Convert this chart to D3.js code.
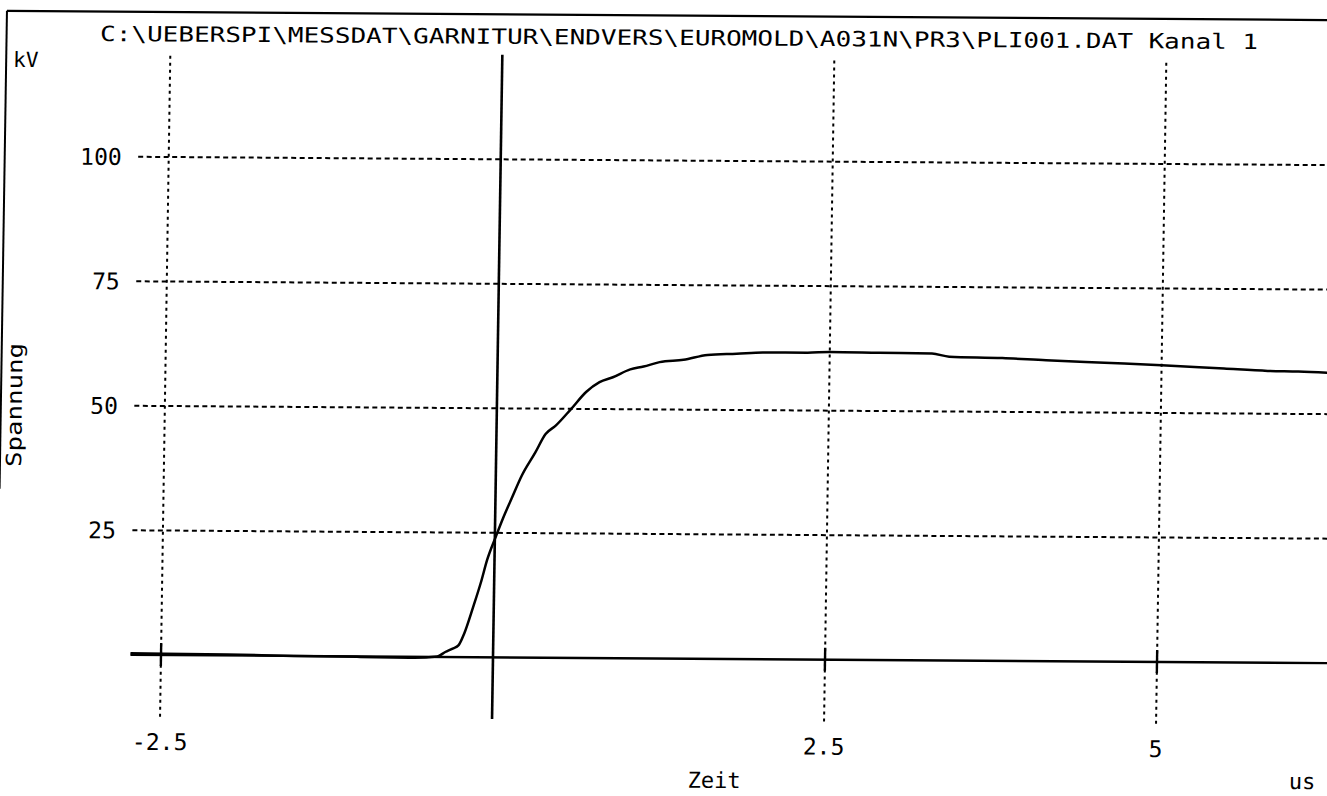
<!DOCTYPE html>
<html>
<head>
<meta charset="utf-8">
<script src="https://cdn.jsdelivr.net/npm/d3@7/dist/d3.min.js"></script>
<style>
html,body{margin:0;padding:0;background:#fff;overflow:hidden}
text{font-family:"DejaVu Sans Mono","Liberation Mono",monospace;fill:#000}
</style>
</head>
<body>
<svg id="chart" width="1327" height="796"></svg>
<script>
// ---- data ----
const titleText = "C:\\UEBERSPI\\MESSDAT\\GARNITUR\\ENDVERS\\EUROMOLD\\A031N\\PR3\\PLI001.DAT Kanal 1";
const yUnit = "kV";
const yTitle = "Spannung";
const xTitle = "Zeit";
const xUnit = "us";

const xTicks = [-2.5, 0, 2.5, 5];
const xTickLabels = ["-2.5", "", "2.5", "5"];
const yTicks = [25, 50, 75, 100];
const yTickLabels = ["25", "50", "75", "100"];

// time in microseconds
const timeUs = [-2.73, -2.0, -1.5, -1.0, -0.6, -0.42, -0.36, -0.305, -0.26, -0.22, -0.155, -0.1, -0.055,
  0.008, 0.06, 0.12, 0.195, 0.295, 0.37, 0.445, 0.56, 0.67, 0.77, 0.87, 1.0, 1.1, 1.22, 1.4, 1.58,
  1.8, 2.0, 2.33, 2.5, 2.87, 3.27, 3.4, 3.8, 4.13, 4.57, 5.0, 5.47, 5.8, 6.03, 6.35];
// voltage in kV
const voltageKV = [0.3, 0.2, 0.0, -0.1, -0.2, 0.1, 1.0, 1.7, 2.4, 4.7, 10.1, 15.0, 19.6,
  24.3, 28.0, 31.8, 36.5, 41.2, 44.9, 46.6, 50.0, 53.4, 55.4, 56.4, 58.0, 58.6, 59.5, 60.0, 61.0,
  61.3, 61.6, 61.6, 61.8, 61.7, 61.6, 61.0, 60.8, 60.4, 60.0, 59.6, 59.0, 58.6, 58.5, 58.2];

const xExtent = [-2.73, 6.6];
const yExtent = [-12.4, 121];

// ---- scales ----
const x = d3.scaleLinear().domain([-2.5, 5]).range([0, 996]);
const y = d3.scaleLinear().domain([0, 100]).range([0, -498]);

const svg = d3.select("#chart");
svg.append("rect").attr("width", 1327).attr("height", 796).attr("fill", "#fff");

// the scanned sheet is slightly skewed
const g = svg.append("g").attr("transform", "matrix(1,0.007,-0.0155,1,161,655)");

// paper frame (top + left edge)
g.append("line").attr("x1", -164).attr("x2", 1200).attr("y1", -643).attr("y2", -643)
  .attr("stroke", "#000").attr("stroke-width", 2.2);
g.append("line").attr("x1", -164).attr("x2", -164).attr("y1", -643).attr("y2", -165)
  .attr("stroke", "#000").attr("stroke-width", 2);

// horizontal dashed grid
g.selectAll("line.hgrid").data(yTicks).join("line").attr("class", "hgrid")
  .attr("x1", x(xExtent[0])).attr("x2", x(xExtent[1]))
  .attr("y1", d => y(d)).attr("y2", d => y(d))
  .attr("stroke", "#000").attr("stroke-width", 2).attr("stroke-dasharray", "5,3.5");

// vertical dotted grid (except 0, which is solid)
g.selectAll("line.vgrid").data(xTicks.filter(d => d !== 0)).join("line").attr("class", "vgrid")
  .attr("x1", d => x(d)).attr("x2", d => x(d))
  .attr("y1", y(yExtent[0])).attr("y2", y(yExtent[1]))
  .attr("stroke", "#000").attr("stroke-width", 2).attr("stroke-dasharray", "3,4");

// solid tick marks on the time axis
g.selectAll("line.xtick").data(xTicks.filter(d => d !== 0)).join("line").attr("class", "xtick")
  .attr("x1", d => x(d)).attr("x2", d => x(d))
  .attr("y1", -12).attr("y2", 11)
  .attr("stroke", "#000").attr("stroke-width", 2.4);

// axes lines
g.append("line").attr("x1", x(xExtent[0])).attr("x2", x(xExtent[1]))
  .attr("y1", y(0)).attr("y2", y(0)).attr("stroke", "#000").attr("stroke-width", 2.4);
g.append("line").attr("x1", x(0)).attr("x2", x(0))
  .attr("y1", y(yExtent[0])).attr("y2", y(yExtent[1])).attr("stroke", "#000").attr("stroke-width", 2.6);

// curve
const pts = timeUs.map((t, i) => [t, voltageKV[i]]);
g.append("path").datum(pts)
  .attr("d", d3.line().x(d => x(d[0])).y(d => y(d[1])).curve(d3.curveMonotoneX))
  .attr("fill", "none").attr("stroke", "#000").attr("stroke-width", 2.5)
  .attr("stroke-linejoin", "round");

// tick labels
g.selectAll("text.ylab").data(yTicks).join("text").attr("class", "ylab")
  .attr("x", x(-2.5) - 47).attr("y", d => y(d)).attr("dy", "0.36em")
  .attr("text-anchor", "end").attr("font-size", 23)
  .text((d, i) => yTickLabels[i]);

g.selectAll("text.xlab").data(xTicks).join("text").attr("class", "xlab")
  .attr("x", d => x(d)).attr("y", 95)
  .attr("text-anchor", "middle").attr("font-size", 23)
  .text((d, i) => xTickLabels[i]);

// titles
g.append("text").attr("x", -70.5).attr("y", -613.5).attr("font-size", 21)
  .attr("textLength", 1158).attr("lengthAdjust", "spacingAndGlyphs").text(titleText);
g.append("text").attr("x", -157).attr("y", -587).attr("font-size", 21).text(yUnit);
g.append("text").attr("transform", `translate(-143,${y(50)}) rotate(-90)`)
  .attr("text-anchor", "middle").attr("font-size", 21)
  .attr("textLength", 124).attr("lengthAdjust", "spacingAndGlyphs").text(yTitle);
g.append("text").attr("x", 555).attr("y", 129).attr("text-anchor", "middle").attr("font-size", 22).text(xTitle);
g.append("text").attr("x", 1143).attr("y", 126).attr("text-anchor", "middle").attr("font-size", 22).text(xUnit);
</script>
</body>
</html>
